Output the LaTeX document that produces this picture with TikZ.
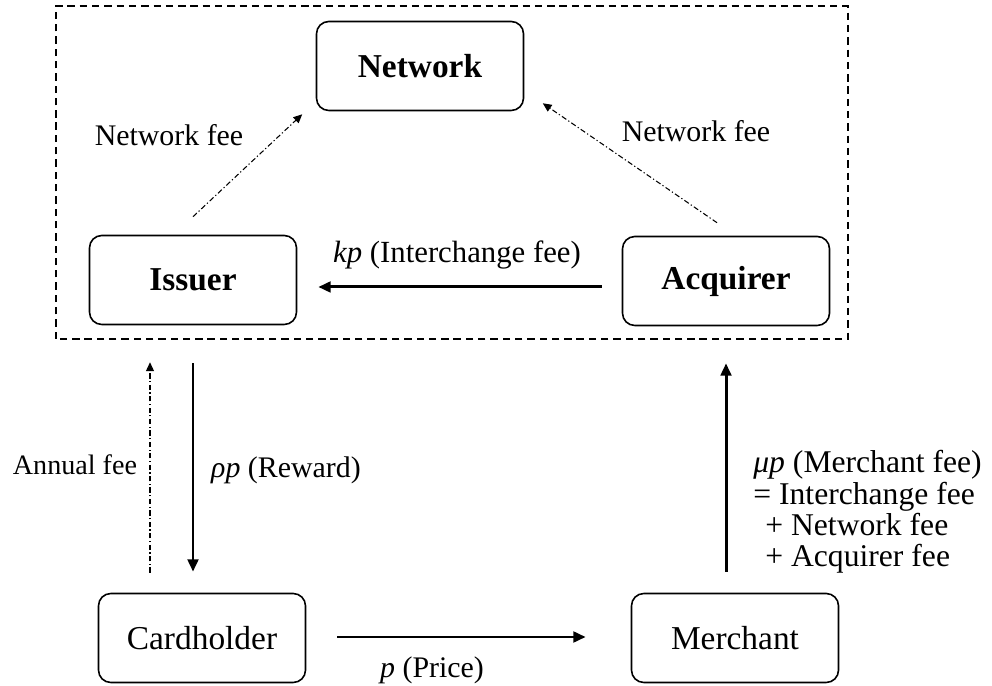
\documentclass[tikz,border=0pt]{standalone}
\usepackage{fontspec}
\setmainfont{Liberation Serif}
\usetikzlibrary{arrows.meta,positioning,calc}

\begin{document}
\begin{tikzpicture}[font=\fontsize{17}{20}\selectfont,
  party/.style={draw,line width=0.9pt,rounded corners=7pt,minimum width=41.4mm,minimum height=17.8mm,font=\fontsize{19}{22}\selectfont},
  pay/.style={-{Triangle[length=7pt,width=6pt]},line width=1.7pt},
  fee/.style={-{Triangle[length=5pt,width=4.5pt]},line width=0.6pt,dash pattern=on 3pt off 1.4pt on 0.7pt off 1.4pt}]
\useasboundingbox (0,0) rectangle (19.84,13.72);
% scheme: network, issuer, acquirer
\draw[line width=1.1pt,dash pattern=on 4.2pt off 2.8pt] (1.12,6.94) rectangle (16.96,13.60);
\node[party] (network) at (8.40,12.40) {\bfseries Network};
\node[party] (issuer) at (3.86,8.12) {\bfseries Issuer};
\node[party] (acquirer) at (14.52,8.10) {\bfseries Acquirer};
% outside the scheme
\node[party] (cardholder) at (4.04,0.96) {Cardholder};
\node[party] (merchant) at (14.70,0.96) {Merchant};
% network fees
\coordinate (iout) at ($(issuer.north)+(0,0.36)$);
\coordinate (iin) at ($(network.south west)+(-0.27,-0.06)$);
\coordinate (aout) at ($(acquirer.north)+(-0.18,0.26)$);
\coordinate (ain) at ($(network.south east)+(0.37,0.16)$);
\draw[fee] (iout) -- (iin);
\draw[fee] (aout) -- (ain);
\node (nfeeI) at (3.38,11.02) {Network fee};
\node (nfeeA) at (13.92,11.10) {Network fee};
% interchange
\draw[pay,shorten <=4mm,shorten >=4.2mm] ([yshift=-1.2mm]acquirer.west) -- ([yshift=-1.2mm]acquirer.west -| issuer.east);
\node[font=\fontsize{17.5}{20}\selectfont] (ifee) at (9.14,8.62) {\textit{kp} (Interchange fee)};
% cardholder side
\coordinate (cup) at ($(cardholder.north)+(-1.04,0)$);
\draw[fee,shorten <=4mm,shorten >=7.4mm] (cup) -- (cup |- issuer.south);
\draw[pay,shorten <=7.6mm,shorten >=4.2mm] (issuer.south) -- (issuer.south |- cardholder.north);
\node[font=\fontsize{16}{19}\selectfont] (afee) at (1.50,4.42) {Annual fee};
\node[anchor=west] (rwd) at (4.10,4.32) {\textit{ρp} (Reward)};
% merchant side
\draw[pay,shorten <=4.2mm,shorten >=7.4mm] (acquirer.south |- merchant.north) -- (acquirer.south);
\node[anchor=west,align=left,inner sep=0pt,font=\fontsize{18}{17.8}\selectfont] (mfee) at (15.06,3.48)
  {\textit{μp} (Merchant fee)\\= Interchange fee\\\hspace*{2.4mm}+ Network fee\\\hspace*{2.4mm}+ Acquirer fee};
% purchase
\draw[pay,shorten <=6.2mm,shorten >=9mm] ([yshift=0.02cm]cardholder.east) -- ([yshift=0.02cm]merchant.west);
\node (price) at (8.64,0.32) {\textit{p} (Price)};
\end{tikzpicture}
\end{document}
